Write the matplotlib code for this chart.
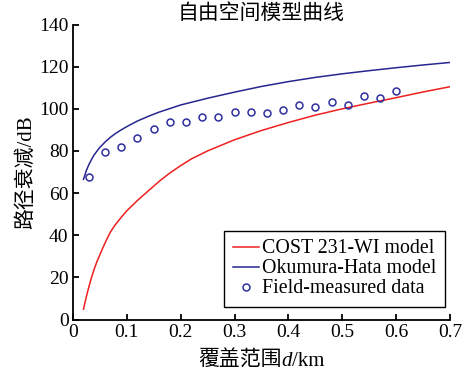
import numpy as np
import matplotlib
matplotlib.use("Agg")
import matplotlib.pyplot as plt
from matplotlib.offsetbox import TextArea, HPacker, AnchoredOffsetbox

plt.rcParams['font.family'] = ['Liberation Serif', 'Noto Sans CJK SC']

# COST 231-WI model curve
cost_d = [0.02, 0.025, 0.03, 0.035, 0.04, 0.045, 0.05, 0.055, 0.06, 0.065,
          0.07, 0.075, 0.08, 0.09, 0.1, 0.11, 0.12, 0.14, 0.16, 0.18, 0.2,
          0.22, 0.25, 0.3, 0.35, 0.4, 0.45, 0.5, 0.55, 0.6, 0.65, 0.7]
cost_db = [4.9, 10.5, 15.5, 20, 24, 27.5, 30.5, 33.5, 36.3, 39,
           41.5, 43.5, 45.3, 48.5, 51.5, 54, 56.5, 61, 65.5, 69.5, 73,
           76.2, 80, 85.3, 89.7, 93.5, 97, 100, 102.7, 105.3, 108, 110.5]

# Okumura-Hata model curve
hata_d = [0.02, 0.025, 0.03, 0.035, 0.04, 0.05, 0.06, 0.07, 0.08, 0.09,
          0.1, 0.12, 0.14, 0.16, 0.18, 0.2, 0.25, 0.3, 0.35, 0.4, 0.45,
          0.5, 0.55, 0.6, 0.65, 0.7]
hata_db = [66.5, 70.5, 73.5, 76, 78.2, 81.6, 84.2, 86.5, 88.4, 90,
           91.5, 94.2, 96.4, 98.4, 100.1, 101.8, 105, 107.9, 110.6, 112.9, 114.9,
           116.6, 118.1, 119.5, 120.8, 122]

# field measurements
meas_d = [0.03, 0.06, 0.09, 0.12, 0.15, 0.18, 0.21, 0.24, 0.27, 0.30,
          0.33, 0.36, 0.39, 0.42, 0.45, 0.48, 0.51, 0.54, 0.57, 0.60]
meas_db = [67.7, 79.6, 81.8, 86.0, 90.4, 93.7, 93.7, 96.0, 96.3, 98.7,
           98.3, 97.9, 99.6, 101.8, 100.7, 103.1, 101.8, 106.1, 105.1, 108.3]

xticks = [0, 0.1, 0.2, 0.3, 0.4, 0.5, 0.6, 0.7]
yticks = [0, 20, 40, 60, 80, 100, 120, 140]

fig = plt.figure(figsize=(4.69, 3.77), dpi=100)
ax = fig.add_axes([0.155, 0.1525, 0.805, 0.7825])

ax.plot(cost_d, cost_db, color='#ee2020', lw=1.1, label='COST 231-WI model')
ax.plot(hata_d, hata_db, color='#262690', lw=1.1, label='Okumura-Hata model')
ax.plot(meas_d, meas_db, 'o', mfc='none', mec='#2f2fa0', ms=5, mew=1.1,
        label='Field-measured data')

ax.set_xlim(0, 0.7)
ax.set_ylim(0, 140)
ax.set_xticks(xticks)
ax.set_xticklabels([f'{t:g}' for t in xticks])
ax.set_yticks(yticks)

for s in ['top', 'right']:
    ax.spines[s].set_visible(False)
for s in ['left', 'bottom']:
    ax.spines[s].set_linewidth(1.3)
ax.tick_params(direction='in', length=4, width=1.3, labelsize=14, pad=3)

ax.set_title('自由空间模型曲线', fontsize=15, pad=4)
ax.set_ylabel('路径衰减/dB', fontsize=15, labelpad=2)

# x label with italic d, built from pieces
lab = HPacker(children=[TextArea('覆盖范围', textprops=dict(fontsize=15)),
                        TextArea('d', textprops=dict(fontsize=15, style='italic')),
                        TextArea('/km', textprops=dict(fontsize=15))],
              align='baseline', pad=0, sep=0)
ab = AnchoredOffsetbox(loc='center', child=lab, pad=0, borderpad=0, frameon=False,
                       bbox_to_anchor=(0.5, -0.14), bbox_transform=ax.transAxes)
ax.add_artist(ab)

leg = ax.legend(loc='lower right', bbox_to_anchor=(0.987, 0.041), borderaxespad=0,
                fontsize=14.3, frameon=True, fancybox=False, edgecolor='black',
                framealpha=1, handlelength=1.3, handletextpad=0.15,
                labelspacing=0.05, borderpad=0.45)
leg.get_frame().set_linewidth(1.0)

fig.savefig('out.png', dpi=100)
